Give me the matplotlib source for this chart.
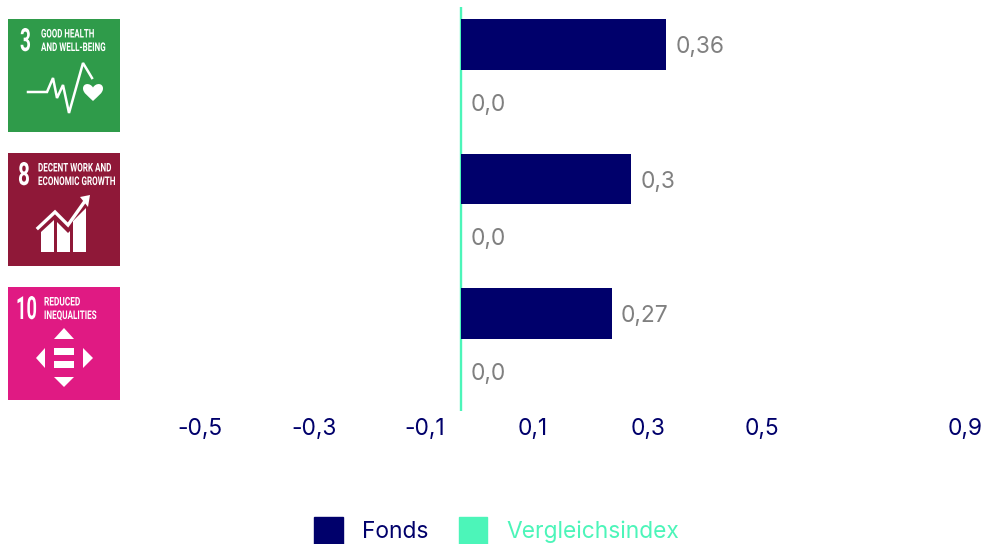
import matplotlib
matplotlib.use("Agg")
import matplotlib.pyplot as plt
from matplotlib.patches import Patch, Rectangle, Polygon, PathPatch
from matplotlib.lines import Line2D
from matplotlib.path import Path
from matplotlib.patheffects import AbstractPathEffect
from matplotlib.transforms import Affine2D, ScaledTranslation

categories = ["SDG 3", "SDG 8", "SDG 10"]
fonds = [0.362, 0.30, 0.266]
index = [0.0, 0.0, 0.0]
fonds_labels = ["0,36", "0,3", "0,27"]
index_labels = ["0,0", "0,0", "0,0"]
tick_values = [-0.5, -0.3, -0.1, 0.1, 0.3, 0.5, 0.9]
tick_labels = ["-0,5", "-0,3", "-0,1", "0,1", "0,3", "0,5", "0,9"]

NAVY = "#00006B"
TEAL = "#4CF5B9"
GRAY = "#808080"
FONT = "Inter"
FS = 16.4
W, H = 981, 544

plt.rcParams["font.family"] = [FONT, "DejaVu Sans"]
fig = plt.figure(figsize=(W / 100, H / 100), dpi=100)


class Squeeze(AbstractPathEffect):
    """Draw a text narrower in x, about a fixed pixel column (condensed look)."""
    def __init__(self, sx, anchor):
        super().__init__()
        self.sx = sx
        self.anchor = anchor

    def draw_path(self, renderer, gc, tpath, affine, rgbFace=None):
        squeeze = Affine2D().translate(-self.anchor, 0).scale(self.sx, 1).translate(self.anchor, 0)
        renderer.draw_path(gc, tpath, affine + squeeze, rgbFace)


# main chart
L, R, T, B = 120.8, 971.3, 7, 411
ax = fig.add_axes([L / W, 1 - B / H, (R - L) / W, (B - T) / H])
ax.set_xlim(-0.6, 0.9)
ax.set_ylim(2.510, -0.494)
ax.patch.set_alpha(0)
for s in ax.spines.values():
    s.set_visible(False)
pos = range(len(categories))
bh, off = 0.379, 0.215
ax.barh([p - off for p in pos], fonds, height=bh, color=NAVY, zorder=3)
ax.barh([p + off for p in pos], index, height=bh, color=TEAL, zorder=3)
ax.axvline(0, color=TEAL, lw=1.7, zorder=2)
for p, v, t in zip(pos, fonds, fonds_labels):
    ax.annotate(t, (v, p - off), xytext=(6.5, -1.8), textcoords="offset points",
                va="center", ha="left", color=GRAY, fontsize=FS)
for p, v, t in zip(pos, index, index_labels):
    ax.annotate(t, (v, p + off), xytext=(7.2, -1.8), textcoords="offset points",
                va="center", ha="left", color=GRAY, fontsize=FS)
ax.set_yticks([])
ax.set_xticks(tick_values)
ax.set_xticklabels(tick_labels, color=NAVY, fontsize=FS)
ax.tick_params(axis="x", length=0, pad=5)
labs = ax.get_xticklabels()
for lab in labs[:-1]:
    lab.set_ha("left")
labs[-1].set_ha("right")
labs[-1].set_transform(labs[-1].get_transform() + ScaledTranslation(11 / 100, 0, fig.dpi_scale_trans))

# legend
handles = [Patch(color=NAVY, label="Fonds"), Patch(color=TEAL, label="Vergleichsindex")]
fig.legend(handles=handles, loc="lower left", bbox_to_anchor=(314 / W, 0), ncol=2,
           frameon=False, fontsize=FS, borderpad=0, borderaxespad=0,
           handlelength=1.27, handleheight=1.44, handletextpad=0.83,
           columnspacing=1.33, labelcolor=[NAVY, TEAL])

# pixel-space overlay for the SDG badges
ov = fig.add_axes([0, 0, 1, 1], zorder=5)
ov.set_xlim(0, W)
ov.set_ylim(H, 0)
ov.axis("off")
ov.patch.set_alpha(0)
rend = fig.canvas.get_renderer()


def ctext(x, y, s, size, width, ha="left"):
    t = ov.text(x, y, s, color="white", fontsize=size, fontweight="bold",
                family="Roboto", ha=ha, va="center_baseline")
    t.set_path_effects([Squeeze(width / t.get_window_extent(rend).width, x)])


def badge(y0, y1, color, num, nr, nw, l1, w1, l2, w2, tx):
    ov.add_patch(Rectangle((8, y0), 112, y1 - y0, color=color, lw=0))
    ctext(nr, y0 + 20, num, 23, nw, ha="right")
    ctext(tx, y0 + 13.5, l1, 8.6, w1)
    ctext(tx, y0 + 27, l2, 8.6, w2)


badge(19, 132, "#2F9B4A", "3", 31, 11, "GOOD HEALTH", 53, "AND WELL-BEING", 64, 41)
badge(153, 266, "#8F1838", "8", 30, 12, "DECENT WORK AND", 73, "ECONOMIC GROWTH", 77, 38)
badge(287, 400, "#E01A83", "10", 37, 21, "REDUCED", 36, "INEQUALITIES", 52, 44)

# icon 3: pulse + heart
ov.add_line(Line2D([28, 47, 53, 57, 63, 69, 83, 92], [92, 92, 78, 98, 85, 113, 63, 78],
                   color="white", lw=1.8, solid_joinstyle="miter"))
heart = Path([(93, 101), (88, 96), (83, 93), (83, 88.5), (83, 83), (90, 82.5), (93, 87.5),
              (96, 82.5), (103, 83), (103, 88.5), (103, 93), (98, 96), (93, 101)],
             [Path.MOVETO] + [Path.CURVE4] * 12)
ov.add_patch(PathPatch(heart, fc="white", ec="none"))

# icon 8: rising bars + arrow
for poly in ([(41, 232), (54, 220), (54, 252), (41, 252)],
             [(57, 222), (68, 233), (70, 231), (70, 252), (57, 252)],
             [(73, 221), (86, 208), (86, 252), (73, 252)]):
    ov.add_patch(Polygon(poly, closed=True, fc="white", ec="none"))
ov.add_line(Line2D([38, 55, 68, 85], [228, 212, 225, 201], color="white", lw=2.4,
                   solid_joinstyle="miter"))
ov.add_patch(Polygon([(90, 195), (80, 197), (88, 207)], closed=True, fc="white", ec="none"))

# icon 10: arrows + bars
for poly in ([(64, 328), (74, 339), (54, 339)],
             [(64, 387), (74, 377), (54, 377)],
             [(36, 358), (45, 348), (45, 368)],
             [(93, 358), (83, 348), (83, 368)]):
    ov.add_patch(Polygon(poly, closed=True, fc="white", ec="none"))
for y in (348, 361):
    ov.add_patch(Rectangle((54, y), 20, 7, color="white", lw=0))

fig.savefig("out.png", dpi=100)
